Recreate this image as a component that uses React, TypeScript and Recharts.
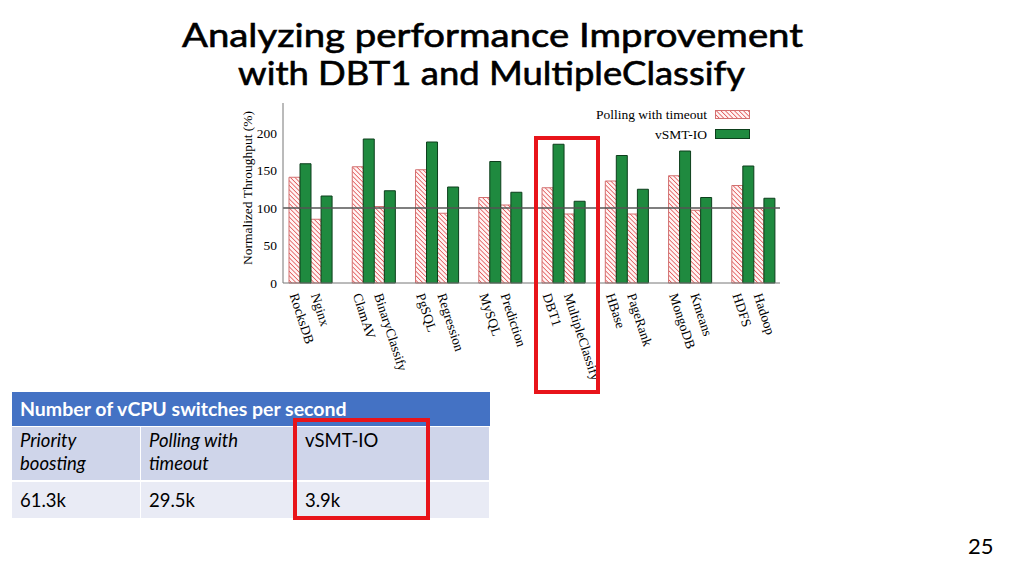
import React from "react";
import {
  BarChart,
  Bar,
  XAxis,
  YAxis,
  ReferenceLine,
  Legend,
} from "recharts";

const benchmarks = [
  "RocksDB", "Nginx", "ClamAV", "BinaryClassify", "PgSQL", "Regression",
  "MySQL", "Prediction", "DBT1", "MultipleClassify", "HBase", "PageRank",
  "MongoDB", "Kmeans", "HDFS", "Hadoop",
];
const pollingValues = [141, 85, 155, 102, 151, 93, 114, 104, 127, 92, 136, 92, 143, 97, 130, 100];
const vsmtValues = [159, 116, 192, 123, 188, 128, 162, 121, 185, 109, 170, 125, 176, 114, 156, 113];
const yTicks = [0, 50, 100, 150, 200];

const tableHeader = "Number of vCPU switches per second";
const tableColumns = [["Priority", "boosting"], ["Polling with", "timeout"], ["vSMT-IO"]];
const tableValues = ["61.3k", "29.5k", "3.9k"];

const titleLines = ["Analyzing performance Improvement", "with DBT1 and MultipleClassify"];
const pageNumber = "25";

// build rows: pairs of benchmarks separated by an empty slot
const rows: any[] = [];
benchmarks.forEach((name, i) => {
  rows.push({ name, polling: pollingValues[i], vsmt: vsmtValues[i] });
  if (i % 2 === 1 && i < benchmarks.length - 1) {
    rows.push({ name: `__gap${i}`, polling: null, vsmt: null });
  }
});

const SERIF = "'Liberation Serif', 'DejaVu Serif', serif";
const HATCH_LINE = "#e05050";
const HATCH_STROKE = "#d27070";
const GREEN = "#1f8a3f";
const GREEN_STROKE = "#0d3f1c";

const XTick = (props: any) => {
  const { x, y, payload } = props;
  const v: string = payload.value;
  if (v.startsWith("__gap")) return null;
  const tx = x - 10;
  const ty = y + 4;
  return (
    <text
      x={tx}
      y={ty}
      transform={`rotate(72, ${tx}, ${ty})`}
      textAnchor="start"
      fontFamily={SERIF}
      fontSize={13.5}
      fill="#000"
    >
      {v}
    </text>
  );
};

const HatchSwatch = () => (
  <svg width={35} height={9} style={{ display: "block" }}>
    <defs>
      <pattern id="hatchLegend" width={3.2} height={3.2} patternUnits="userSpaceOnUse" patternTransform="rotate(-45)">
        <rect width={3.2} height={3.2} fill="#fff4f4" />
        <line x1={0} y1={0} x2={0} y2={3.2} stroke={HATCH_LINE} strokeWidth={1.5} />
      </pattern>
    </defs>
    <rect x={0.5} y={0.5} width={34} height={8} fill="url(#hatchLegend)" stroke={HATCH_STROKE} strokeWidth={1} />
  </svg>
);

const GreenSwatch = () => (
  <svg width={35} height={10} style={{ display: "block" }}>
    <rect x={0.5} y={0.5} width={34} height={9} fill={GREEN} stroke={GREEN_STROKE} strokeWidth={1} />
  </svg>
);

const LegendContent = () => (
  <div style={{ fontFamily: SERIF, fontSize: 13.5, color: "#000", lineHeight: "13px" }}>
    <div style={{ display: "flex", alignItems: "center", justifyContent: "flex-end", height: 20 }}>
      <span style={{ marginRight: 8 }}>Polling with timeout</span>
      <HatchSwatch />
    </div>
    <div style={{ display: "flex", alignItems: "center", justifyContent: "flex-end", height: 20 }}>
      <span style={{ marginRight: 8 }}>vSMT-IO</span>
      <GreenSwatch />
    </div>
  </div>
);

const YLabel = (props: any) => {
  const { viewBox } = props;
  const cx = viewBox.x + 17;
  const cy = viewBox.y + viewBox.height / 2 - 5;
  return (
    <text
      x={cx}
      y={cy}
      transform={`rotate(-90, ${cx}, ${cy})`}
      textAnchor="middle"
      dominantBaseline="central"
      fontFamily={SERIF}
      fontSize={13.5}
      fill="#000"
    >
      Normalized Throughput (%)
    </text>
  );
};

const cellBase: React.CSSProperties = {
  position: "absolute",
  boxSizing: "border-box",
  padding: "0 8px",
  fontFamily: "Lato, 'Open Sans', sans-serif",
  fontSize: 18.5,
  color: "#000",
};

export default function App() {
  const colX = [12, 141, 297, 490];
  return (
    <div style={{ position: "absolute", left: 0, top: 0, width: 1024, height: 575, background: "#fff", overflow: "hidden" }}>
      {/* Title */}
      <svg style={{ position: "absolute", left: 0, top: 0 }} width={1024} height={100}>
        <text x={182} y={46.5} textLength={621} lengthAdjust="spacingAndGlyphs" fontFamily="Lato, sans-serif" fontSize={32} fill="#000" stroke="#000" strokeWidth={0.6}>
          {titleLines[0]}
        </text>
        <text x={238} y={85} textLength={507} lengthAdjust="spacingAndGlyphs" fontFamily="Lato, sans-serif" fontSize={32} fill="#000" stroke="#000" strokeWidth={0.6}>
          {titleLines[1]}
        </text>
      </svg>

      {/* Chart */}
      <div style={{ position: "absolute", left: 230, top: 95 }}>
        <BarChart
          width={560}
          height={310}
          data={rows}
          margin={{ top: 8, right: 10, left: 0, bottom: 0 }}
          barCategoryGap={0}
          barGap={0}
        >
          <defs>
            <pattern id="hatch" width={3.2} height={3.2} patternUnits="userSpaceOnUse" patternTransform="rotate(-45)">
              <rect width={3.2} height={3.2} fill="#fff4f4" />
              <line x1={0} y1={0} x2={0} y2={3.2} stroke={HATCH_LINE} strokeWidth={1.5} />
            </pattern>
          </defs>
          <XAxis
            dataKey="name"
            type="category"
            interval={0}
            height={122}
            padding={{ left: 6, right: 6 }}
            tick={<XTick />}
            tickLine={false}
            axisLine={{ stroke: "#777" }}
          />
          <XAxis
            xAxisId="top"
            dataKey="name"
            orientation="top"
            height={0}
            tick={false}
            tickLine={false}
            axisLine={{ stroke: "#777" }}
          />
          <YAxis
            domain={[0, 240]}
            ticks={yTicks}
            width={53}
            tickSize={0}
            tickMargin={6}
            tickLine={false}
            axisLine={{ stroke: "#777" }}
            tick={{ fontFamily: SERIF, fontSize: 13.5, fill: "#000" }}
            label={<YLabel />}
          />
          <YAxis
            yAxisId="right"
            orientation="right"
            domain={[0, 240]}
            width={0}
            tick={false}
            tickLine={false}
            axisLine={{ stroke: "#777" }}
          />
          <Legend
            verticalAlign="middle"
            align="center"
            layout="vertical"
            content={<LegendContent />}
            wrapperStyle={{ top: 9, right: 40, left: "auto", width: 300 }}
          />
          <ReferenceLine y={100} stroke="#555" strokeWidth={1.3} />
          <Bar dataKey="polling" fill="url(#hatch)" stroke={HATCH_STROKE} strokeWidth={1} isAnimationActive={false} />
          <Bar dataKey="vsmt" fill={GREEN} stroke={GREEN_STROKE} strokeWidth={1} isAnimationActive={false} />
        </BarChart>
      </div>

      {/* Red box around DBT1 / MultipleClassify */}
      <div style={{ position: "absolute", left: 534, top: 136, width: 66, height: 258, border: "4px solid #e8141a", boxSizing: "border-box" }} />

      {/* Table */}
      <div style={{ position: "absolute", left: 12, top: 392, width: 478, height: 34, background: "#4472c4" }} />
      <div style={{ ...cellBase, left: 12, top: 392, width: 478, height: 34, lineHeight: "34px", color: "#fff", fontWeight: 700, fontSize: 19.5 }}>
        {tableHeader}
      </div>
      {tableColumns.map((lines, i) => (
        <div
          key={`h${i}`}
          style={{
            ...cellBase,
            left: colX[i],
            top: 427,
            width: colX[i + 1] - colX[i] - 1,
            height: 53,
            background: "#cfd5ea",
            paddingTop: 2,
            lineHeight: "23px",
            fontStyle: i < 2 ? "italic" : "normal",
          }}
        >
          {lines.map((l, j) => (
            <div key={j}>{l}</div>
          ))}
        </div>
      ))}
      {tableValues.map((v, i) => (
        <div
          key={`v${i}`}
          style={{
            ...cellBase,
            left: colX[i],
            top: 482,
            width: colX[i + 1] - colX[i] - 1,
            height: 36,
            background: "#e9ebf5",
            lineHeight: "36px",
          }}
        >
          {v}
        </div>
      ))}

      {/* Red box around vSMT-IO column */}
      <div style={{ position: "absolute", left: 293, top: 418, width: 137, height: 102, border: "4px solid #e8141a", boxSizing: "border-box" }} />

      {/* Page number */}
      <div style={{ position: "absolute", left: 968, top: 533, fontFamily: "Lato, sans-serif", fontSize: 22, color: "#000", lineHeight: "26px" }}>
        {pageNumber}
      </div>
    </div>
  );
}
